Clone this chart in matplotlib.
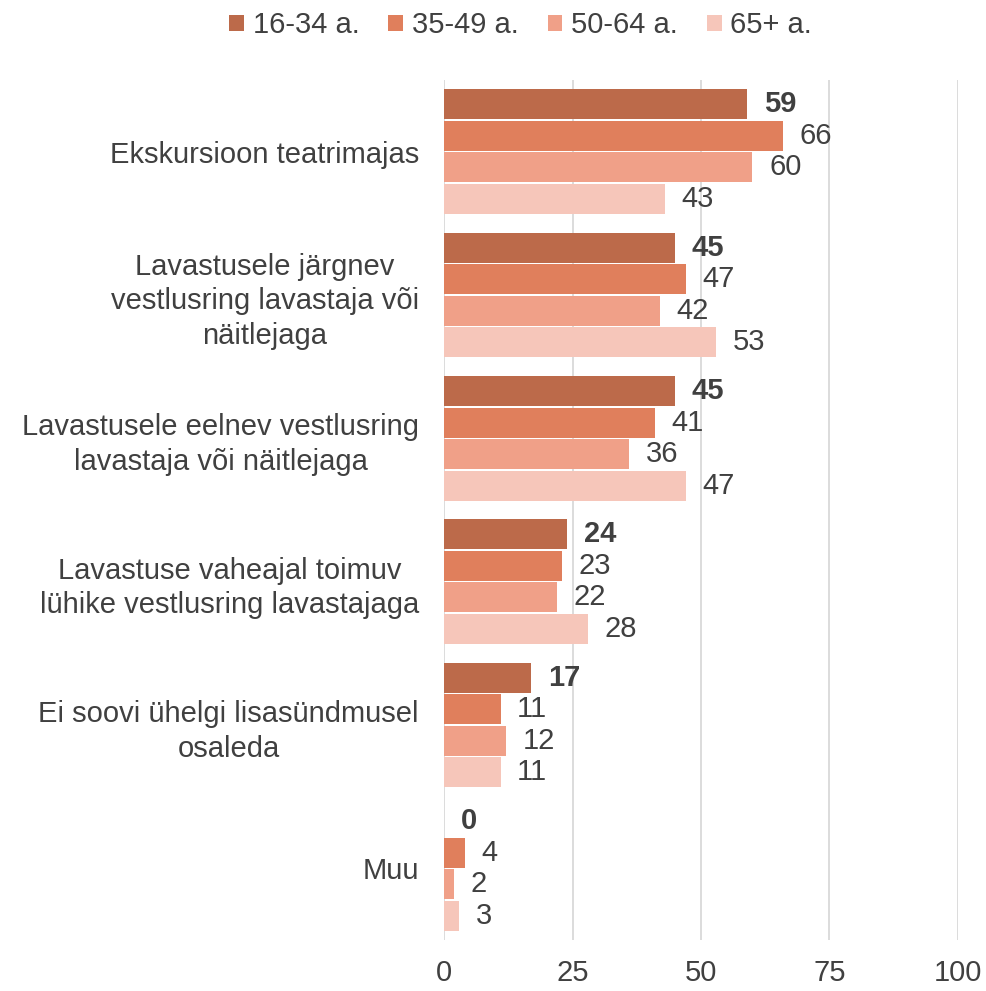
import matplotlib
matplotlib.use("Agg")
import matplotlib.pyplot as plt
import numpy as np

plt.rcParams['font.family'] = ['Liberation Sans', 'DejaVu Sans']

categories = [
    "Ekskursioon teatrimajas",
    "Lavastusele järgnev\nvestlusring lavastaja või\nnäitlejaga",
    "Lavastusele eelnev vestlusring\nlavastaja või näitlejaga",
    "Lavastuse vaheajal toimuv\nlühike vestlusring lavastajaga",
    "Ei soovi ühelgi lisasündmusel\nosaleda",
    "Muu",
]
series_names = ["16-34 a.", "35-49 a.", "50-64 a.", "65+ a."]
v_16_34 = [59, 45, 45, 24, 17, 0]
v_35_49 = [66, 47, 41, 23, 11, 4]
v_50_64 = [60, 42, 36, 22, 12, 2]
v_65 = [43, 53, 47, 28, 11, 3]
series_values = [v_16_34, v_35_49, v_50_64, v_65]
colors = ["#BC6A4A", "#E07F5C", "#F0A088", "#F6C6BA"]
xticks = [0, 25, 50, 75, 100]

text_color = "#404040"
fs = 21
fig = plt.figure(figsize=(9.86, 9.91), dpi=100)
ax = fig.add_axes([444/986, 1-940/991, (958-444)/986, (940-80)/991])

y = np.arange(len(categories))
h = 0.22
for i, (name, vals, c) in enumerate(zip(series_names, series_values, colors)):
    pos = y + (i - 1.5) * h
    ax.barh(pos, vals, height=h * 0.95, color=c, label=name, linewidth=0, zorder=2)
    for p, v in zip(pos, vals):
        ax.annotate(str(v), xy=(v, p), xytext=(12, 0), textcoords='offset points',
                    ha='left', va='center', fontsize=fs, color=text_color,
                    fontweight='bold' if i == 0 else 'normal')

ax.set_xlim(0, 100)
ax.set_ylim(len(categories) - 0.5, -0.5)
ax.set_xticks(xticks)
ax.set_xticklabels([str(t) for t in xticks], fontsize=fs, color=text_color)
ax.set_yticks(y)
ax.set_yticklabels(categories, fontsize=fs, color=text_color, linespacing=1.3)
for t in ax.get_yticklabels():
    t.set_multialignment('center')
ax.tick_params(axis='both', length=0)
ax.tick_params(axis='y', pad=18)
ax.tick_params(axis='x', pad=14)
ax.grid(axis='x', color='#D9D9D9', linewidth=1.3, zorder=0)
ax.set_axisbelow(True)
for s in ax.spines.values():
    s.set_visible(False)

fig.legend(loc='upper center', bbox_to_anchor=(0.528, 1.015), ncol=4, frameon=False,
           fontsize=fs, handlelength=0.5, handleheight=0.5, handletextpad=0.3,
           columnspacing=1.0, labelcolor=text_color)

fig.savefig("out.png", dpi=100)
